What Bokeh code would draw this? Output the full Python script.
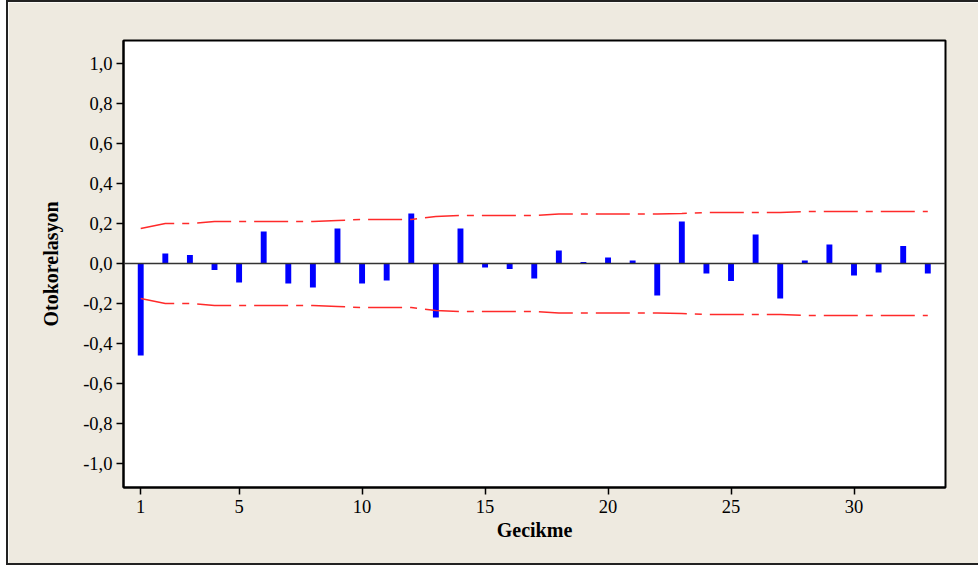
from bokeh.plotting import figure
from bokeh.models import FixedTicker, CustomJSTickFormatter, Span, Range1d
from bokeh.embed import file_html
from bokeh.resources import INLINE

lags = list(range(1, 34))
acf = [-0.46, 0.05, 0.042, -0.033, -0.095, 0.16, -0.10, -0.12, 0.175, -0.10,
       -0.085, 0.25, -0.27, 0.175, -0.02, -0.028, -0.075, 0.065, 0.008, 0.03,
       0.015, -0.16, 0.21, -0.05, -0.087, 0.145, -0.175, 0.015, 0.095, -0.06,
       -0.045, 0.088, -0.05]
upper = [0.175, 0.20, 0.20, 0.21, 0.21, 0.21, 0.21, 0.21, 0.215, 0.22,
         0.22, 0.22, 0.235, 0.24, 0.24, 0.24, 0.24, 0.248, 0.248, 0.248,
         0.248, 0.248, 0.25, 0.255, 0.255, 0.255, 0.255, 0.26, 0.26, 0.26,
         0.26, 0.26, 0.26]
lower = [-u for u in upper]
x_ticks = [1, 5, 10, 15, 20, 25, 30]
y_ticks = [-1.0, -0.8, -0.6, -0.4, -0.2, 0.0, 0.2, 0.4, 0.6, 0.8, 1.0]

BG = "#EEEAE0"
FONT = "Liberation Serif"

p = figure(width=972, height=565, output_backend="svg", toolbar_location=None,
           x_range=Range1d(0.3, 33.72), y_range=Range1d(-1.12, 1.115),
           min_border_left=115, min_border_right=35, min_border_top=38,
           min_border_bottom=80,
           background_fill_color="white", border_fill_color=BG,
           outline_line_color="black", outline_line_width=2)
p.styles = {"margin-left": "6px", "border-top": "2px solid #222",
            "border-left": "2px solid #222", "border-bottom": "2px solid #222"}
p.grid.visible = False

p.add_layout(Span(location=0, dimension="width", line_color="#333333",
                  line_width=1.5))
p.vbar(x=lags, top=acf, bottom=0, width=0.24, fill_color="#0000FF",
       line_color=None)
p.line(lags, upper, line_color="#FF2A2A", line_width=1.5, line_dash="34 8 7 8")
p.line(lags, lower, line_color="#FF2A2A", line_width=1.5, line_dash="34 8 7 8")

fmt = CustomJSTickFormatter(code="return tick.toFixed(1).replace('.', ',');")
p.yaxis.ticker = FixedTicker(ticks=y_ticks)
p.yaxis.formatter = fmt
p.xaxis.ticker = FixedTicker(ticks=x_ticks)

for ax in (p.xaxis[0], p.yaxis[0]):
    ax.axis_line_color = "black"
    ax.axis_line_width = 2
    ax.major_tick_line_color = "black"
    ax.major_tick_line_width = 1.5
    ax.major_tick_in = 0
    ax.major_tick_out = 7
    ax.minor_tick_line_color = None
    ax.major_label_text_font = FONT
    ax.major_label_text_font_size = "18.5px"
    ax.major_label_text_color = "black"
    ax.axis_label_text_font = FONT
    ax.axis_label_text_font_size = "20px"
    ax.axis_label_text_font_style = "bold"
    ax.axis_label_text_color = "black"

p.xaxis.axis_label = "Gecikme"
p.yaxis.axis_label = "Otokorelasyon"
p.xaxis.major_label_standoff = 5
p.xaxis.axis_label_standoff = 3
p.yaxis.major_label_standoff = 4
p.yaxis.axis_label_standoff = 18

open("out.html", "w").write(file_html(p, INLINE))
